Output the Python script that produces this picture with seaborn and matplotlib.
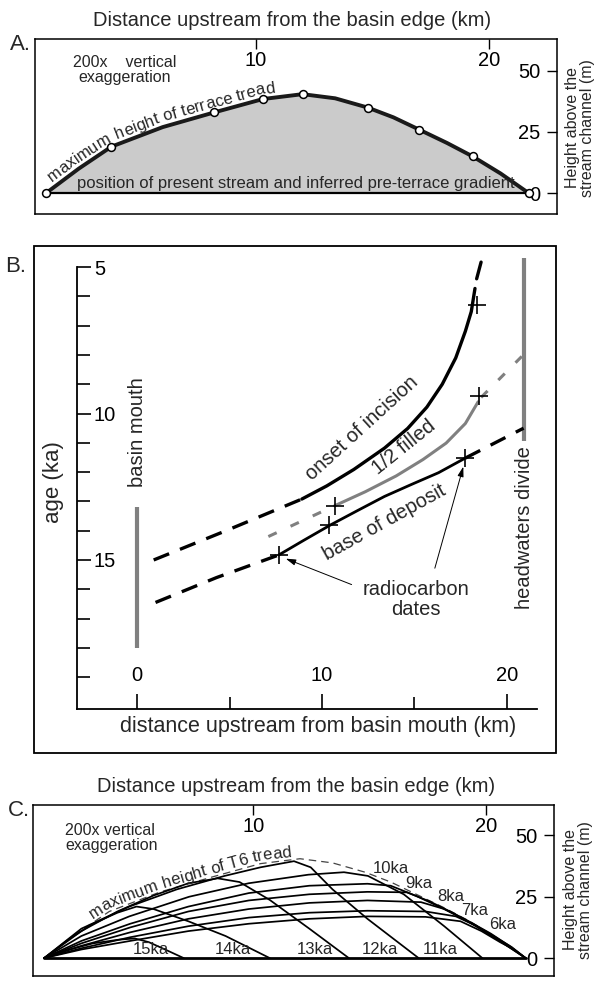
import numpy as np
import pandas as pd
import matplotlib
matplotlib.use("Agg")
import matplotlib.pyplot as plt
from matplotlib.patches import Rectangle
from matplotlib.ticker import FixedLocator
from matplotlib.font_manager import FontProperties
import seaborn as sns

sns.set_theme(style="white")
plt.rcParams['font.family'] = ['Liberation Sans', 'DejaVu Sans']
plt.rcParams['axes.linewidth'] = 1.0

# ---------------- data ----------------
# Panel A: maximum height of terrace tread (survey points and traced curve)
a_km = [1.0, 3.8, 8.2, 10.3, 12.0, 14.8, 17.0, 19.3, 21.7]
a_height = [0, 19, 33, 38.5, 40.5, 35, 26, 15, 0]
a_curve_km = [1.0, 2.4, 3.8, 6.0, 8.2, 10.3, 12.0, 13.4, 14.8, 15.9, 17.0, 18.2, 19.3, 20.5, 21.7]
a_curve_h = [0, 10, 19, 27, 33, 38.5, 40.5, 38.8, 35, 31, 26, 20.5, 15, 8, 0]
top_ticks = [10, 20]
right_ticks = [0, 25, 50]

# Panel B: ages (ka) vs distance upstream from basin mouth (km)
onset_km = [8.91, 10.26, 11.72, 13.38, 14.63, 15.67, 16.5, 17.23, 17.75, 18.07, 18.27]
onset_age = [12.92, 12.47, 11.91, 11.18, 10.51, 9.78, 9.0, 8.1, 7.19, 6.52, 5.73]
onset_lo_km = [0.9, 4.85, 8.91]
onset_lo_age = [15.0, 13.99, 12.92]
onset_hi_km = [18.36, 18.6]
onset_hi_age = [5.4, 4.83]

half_km = [10.68, 12.34, 14.01, 15.46, 16.71, 17.75, 18.44]
half_age = [13.15, 12.67, 12.13, 11.57, 11.01, 10.34, 9.6]
half_lo_km = [7.1, 10.68]
half_lo_age = [14.2, 13.15]
half_hi_km = [18.6, 20.8]
half_hi_age = [9.45, 8.05]

base_km = [7.66, 9.01, 10.47, 11.93, 13.38, 14.84, 16.3, 17.75]
base_age = [14.83, 14.33, 13.8, 13.31, 12.83, 12.42, 12.02, 11.52]
base_lo_km = [1.0, 4.3, 7.66]
base_lo_age = [16.45, 15.6, 14.83]
base_hi_km = [17.75, 20.9]
base_hi_age = [11.52, 10.5]

dates_km = [18.4, 18.5, 10.7, 10.4, 7.66, 17.75]
dates_age = [6.3, 9.4, 13.15, 13.8, 14.83, 11.52]

mouth_km, mouth_age = [0, 0], [13.2, 18.0]
divide_km, divide_age = [20.9, 20.9], [4.7, 10.95]

b_age_major = [5, 10, 15]
b_age_minor = [6, 7, 8, 9, 11, 12, 13, 14, 16, 17, 18, 19]
b_km_major = [0, 10, 20]
b_km_minor = [5, 15]

# Panel C: profiles through time
env_km = a_curve_km
env_height = a_curve_h
p15_km = [1.0, 2.1, 3.1, 4.2, 4.9, 5.5, 6.2, 7.0]
p15_h = [0, 3.5, 6, 7.5, 8, 6.5, 3.5, 0]
p14_km = [1.0, 2.1, 3.1, 4.15, 4.97, 5.7, 7.2, 8.8, 10.7]
p14_h = [0, 8, 14, 18.5, 21, 20, 15, 9, 0]
p13_km = [1.0, 2.6, 4.15, 5.7, 7.2, 8.46, 9.4, 10.7, 12.4, 14.1]
p13_h = [0, 11, 19, 25.5, 30.5, 32.5, 31, 23.7, 12, 0]
p12_km = [1.0, 2.6, 4.66, 6.7, 8.76, 10.3, 11.74, 12.46, 13.4, 14.9, 17.1]
p12_h = [0, 12, 21, 28, 33.5, 37, 39.5, 37, 28, 16, 0]
p11_km = [1.0, 2.6, 4.66, 7.23, 9.79, 12.36, 13.89, 14.92, 16.46, 18.2, 19.84]
p11_h = [0, 9, 17, 25, 30.5, 34, 35, 33.5, 26, 13, 0]
p10_km = [1.0, 2.6, 4.7, 7.2, 9.8, 12.4, 14.9, 15.9, 17.0, 18.2, 19.3, 20.5, 21.7]
p10_h = [0, 7, 14, 21, 26.5, 29.5, 30.3, 29.5, 25.3, 20, 14.5, 7.5, 0]
p9_km = [1.0, 2.6, 4.7, 7.2, 9.8, 12.4, 14.9, 16.6, 17.6, 18.6, 19.6, 20.6, 21.7]
p9_h = [0, 6, 12.5, 19, 23.5, 26, 27, 26.8, 23, 18.3, 13, 7, 0]
p8_km = [1.0, 2.6, 4.7, 7.2, 9.8, 12.4, 14.9, 17.2, 18.2, 19.2, 20.2, 21.0, 21.7]
p8_h = [0, 5, 10.5, 16, 20, 22.5, 23.5, 22.8, 20, 15.3, 10, 5, 0]
p7_km = [1.0, 2.6, 4.7, 7.2, 9.8, 12.4, 14.9, 17.4, 18.7, 19.6, 20.4, 21.1, 21.7]
p7_h = [0, 4, 8.5, 13, 16.5, 18.5, 19.3, 19, 17, 13, 8.5, 4.5, 0]
p6_km = [1.0, 2.6, 4.7, 7.2, 9.8, 12.4, 14.9, 17.4, 18.9, 19.8, 20.6, 21.2, 21.7]
p6_h = [0, 3.5, 7, 11, 14, 16, 17, 16.8, 15, 11, 6.5, 3.5, 0]

low_labels = ['15ka', '14ka', '13ka', '12ka', '11ka']
low_label_km = [5.6, 9.1, 12.65, 15.45, 18.05]
high_labels = ['10ka', '9ka', '8ka', '7ka', '6ka']
high_label_km = [15.9, 17.1, 18.5, 19.5, 20.7]
high_label_h = [36.5, 30.5, 25, 19.5, 13.8]

# ---------------- layout helpers ----------------
W, H = 601, 981
fig = plt.figure(figsize=(W / 100, H / 100), dpi=100)
renderer = fig.canvas.get_renderer()


def rect(x0, y0, x1, y1):
    return [x0 / W, 1 - y1 / H, (x1 - x0) / W, (y1 - y0) / H]


def ftext(x, y, s, **kw):
    fig.text(x / W, 1 - y / H, s, **kw)


def angle(ax, p0, p1):
    (x0, y0), (x1, y1) = ax.transData.transform([p0, p1])
    return np.degrees(np.arctan2(y1 - y0, x1 - x0))


def line(ax, x, y, **kw):
    sns.lineplot(x=x, y=y, ax=ax, sort=False, estimator=None, legend=False, **kw)


def text_on_curve(ax, xs, ys, s, start_px, offset_px, fontsize, win=14):
    pts = ax.transData.transform(np.column_stack([xs, ys]))
    d = np.r_[0, np.cumsum(np.hypot(*np.diff(pts, axis=0).T))]
    prop = FontProperties(family=['Liberation Sans', 'DejaVu Sans'], size=fontsize)

    def at(sv):
        sv = np.clip(sv, 0, d[-1])
        return np.array([np.interp(sv, d, pts[:, 0]), np.interp(sv, d, pts[:, 1])])

    pos = start_px
    inv = ax.transData.inverted()
    for ch in s:
        w, _, _ = renderer.get_text_width_height_descent(ch if ch != ' ' else 'i', prop,
                                                         ismath=False)
        if ch == ' ':
            w *= 1.25
        mid = pos + w / 2
        p = at(mid)
        v = at(mid + win) - at(mid - win)
        th = np.arctan2(v[1], v[0])
        n = np.array([-np.sin(th), np.cos(th)])
        q = p + n * offset_px
        if ch != ' ':
            xd, yd = inv.transform(q)
            ax.text(xd, yd, ch, rotation=np.degrees(th), rotation_mode='anchor',
                    ha='center', va='baseline', fontproperties=prop, zorder=6)
        pos += w


def profile_frame(ax, ylim, tick_pad):
    ax.set_xlim(0.52, 22.92)
    ax.set_ylim(*ylim)
    ax.xaxis.tick_top()
    ax.set_xticks(top_ticks)
    ax.set_xticklabels([str(t) for t in top_ticks])
    ax.tick_params(axis='x', direction='in', length=7, width=1.0, pad=tick_pad,
                   labelsize=14.5, colors='black')
    ax.yaxis.tick_right()
    ax.set_yticks(right_ticks)
    ax.set_yticklabels([str(t) for t in right_ticks])
    ax.tick_params(axis='y', direction='in', length=7, width=1.0, pad=-12,
                   labelsize=14.5, colors='black')
    for lbl in ax.get_yticklabels():
        lbl.set_horizontalalignment('right')
    for s in ax.spines.values():
        s.set_color('black')
        s.set_linewidth(1.1)
    ax.set_xlabel('')
    ax.set_ylabel('')


# ---------------- Panel A ----------------
axA = fig.add_axes(rect(35, 39, 557, 214))
profile_frame(axA, (-8.6, 63.1), -22)
axA.fill_between(a_curve_km, a_curve_h, 0, color='#cbcbcb', lw=0, zorder=1)
axA.plot([a_km[0], a_km[-1]], [0, 0], color='black', lw=1.6, zorder=2)
line(axA, a_curve_km, a_curve_h, color='#1a1a1a', lw=2.8, zorder=3)
sns.scatterplot(x=a_km, y=a_height, ax=axA, s=32, color='white', edgecolor='black',
                linewidth=1.1, zorder=5, legend=False)
axA.set_xlabel(''); axA.set_ylabel('')
axA.text(4.35, 50.5, '200x    vertical\nexaggeration', ha='center', va='center',
         fontsize=11.5, linespacing=1.0)
text_on_curve(axA, a_curve_km, a_curve_h, 'maximum height of terrace tread', 11, 5, 12)
axA.text(11.7, 4.0, 'position of present stream and inferred pre-terrace gradient',
         ha='center', va='center', fontsize=12)

ftext(292, 20, 'Distance upstream from the basin edge (km)', ha='center', va='center',
      fontsize=14.5)
ftext(20, 45, 'A.', ha='center', va='center', fontsize=16)
ftext(580, 128, 'Height above the\nstream channel (m)', ha='center', va='center',
      rotation=90, fontsize=11.5, linespacing=1.0)

# ---------------- Panel B ----------------
axB = fig.add_axes(rect(34, 246, 556, 753))
axB.set_xlim(-5.57, 22.65)
axB.set_ylim(21.59, 4.28)
axB.add_patch(Rectangle((0, 0), 1, 1, transform=axB.transAxes, fill=False,
                        ec='black', lw=1.3, clip_on=False, zorder=0))
axB.spines['top'].set_visible(False)
axB.spines['right'].set_visible(False)
axB.spines['left'].set_position(('data', -3.24))
axB.spines['left'].set_bounds(5, 20.09)
axB.spines['bottom'].set_position(('data', 20.09))
axB.spines['bottom'].set_bounds(-3.24, 21.6)
for s in ['left', 'bottom']:
    axB.spines[s].set_color('black')
    axB.spines[s].set_linewidth(1.3)

gray = '#808080'
dash_k = (0, (5, 3.5))
dash_g = (0, (3, 5))
line(axB, onset_km, onset_age, color='black', lw=2.4, zorder=3)
line(axB, onset_lo_km, onset_lo_age, color='black', lw=2.4, linestyle=dash_k, zorder=3)
line(axB, onset_hi_km, onset_hi_age, color='black', lw=2.4, zorder=3)
line(axB, half_km, half_age, color=gray, lw=2.2, zorder=3)
line(axB, half_lo_km, half_lo_age, color=gray, lw=2.2, linestyle=dash_g, zorder=3)
line(axB, half_hi_km, half_hi_age, color=gray, lw=2.2, linestyle=dash_g, zorder=3)
line(axB, base_km, base_age, color='black', lw=2.0, zorder=3)
line(axB, base_lo_km, base_lo_age, color='black', lw=2.4, linestyle=dash_k, zorder=3)
line(axB, base_hi_km, base_hi_age, color='black', lw=2.4, linestyle=dash_k, zorder=3)
axB.plot(mouth_km, mouth_age, color=gray, lw=3.0, solid_capstyle='butt', zorder=2)
axB.plot(divide_km, divide_age, color=gray, lw=3.0, solid_capstyle='butt', zorder=2)
axB.plot(dates_km, dates_age, linestyle='none', marker='+', ms=13, mew=1.2,
         color='black', zorder=4)

axB.set_yticks(b_age_major)
axB.yaxis.set_minor_locator(FixedLocator(b_age_minor))
axB.set_yticklabels([str(v) for v in b_age_major])
axB.tick_params(axis='y', which='major', direction='in', length=10, width=1.2, pad=-12,
                labelsize=14.5, left=True, colors='black')
axB.tick_params(axis='y', which='minor', direction='in', length=9, width=1.2, left=True,
                colors='black')
for lbl in axB.get_yticklabels():
    lbl.set_horizontalalignment('left')
axB.set_xticks(b_km_major)
axB.xaxis.set_minor_locator(FixedLocator(b_km_minor))
axB.set_xticklabels([str(v) for v in b_km_major])
axB.tick_params(axis='x', which='major', direction='in', length=11, width=1.2, pad=-31,
                labelsize=14.5, bottom=True, colors='black')
axB.tick_params(axis='x', which='minor', direction='in', length=9, width=1.2, bottom=True,
                colors='black')
axB.set_xlabel(''); axB.set_ylabel('')

axB.text(9.8, 20.67, 'distance upstream from basin mouth (km)', ha='center', va='center',
         fontsize=15.5)
axB.text(-4.52, 12.35, 'age (ka)', ha='center', va='center', rotation=90, fontsize=16)
axB.text(0.05, 10.65, 'basin mouth', ha='center', va='center', rotation=90, fontsize=14.5)
axB.text(20.95, 13.9, 'headwaters divide', ha='center', va='center', rotation=90,
         fontsize=14.5)
axB.text(12.15, 10.5, 'onset of incision', ha='center', va='center',
         rotation=angle(axB, (8.8, 12.45), (15.5, 8.6)), rotation_mode='anchor',
         fontsize=14.5)
axB.text(14.45, 11.15, '1/2 filled', ha='center', va='center',
         rotation=angle(axB, (12.55, 12.1), (16.3, 10.2)), rotation_mode='anchor',
         fontsize=14.5)
axB.text(13.4, 13.72, 'base of deposit', ha='center', va='center',
         rotation=angle(axB, (9.84, 14.94), (16.9, 12.47)), rotation_mode='anchor',
         fontsize=14.5)
axB.text(15.1, 16.35, 'radiocarbon\ndates', ha='center', va='center', fontsize=14.5,
         linespacing=1.1)
arrow_kw = dict(arrowstyle='-|>,head_length=0.5,head_width=0.15', color='black', lw=0.7,
                shrinkA=0, shrinkB=2)
axB.annotate('', xy=(7.9, 14.92), xytext=(11.6, 15.84), arrowprops=arrow_kw)
axB.annotate('', xy=(17.68, 11.72), xytext=(16.1, 15.28), arrowprops=arrow_kw)
ftext(16, 266, 'B.', ha='center', va='center', fontsize=16)

# ---------------- Panel C ----------------
axC = fig.add_axes(rect(33, 805, 554, 976))
profile_frame(axC, (-7.3, 62.4), -22)
axC.plot([env_km[0], env_km[-1]], [0, 0], color='black', lw=2.0, zorder=2)
line(axC, env_km, env_height, color='#444444', lw=0.9, linestyle=(0, (6, 4)), zorder=2)
for kx, hy in [(p15_km, p15_h), (p14_km, p14_h), (p13_km, p13_h), (p12_km, p12_h),
               (p11_km, p11_h), (p10_km, p10_h), (p9_km, p9_h), (p8_km, p8_h),
               (p7_km, p7_h), (p6_km, p6_h)]:
    line(axC, kx, hy, color='black', lw=1.25, zorder=3)
axC.set_xlabel(''); axC.set_ylabel('')
for lab, kx in zip(low_labels, low_label_km):
    axC.text(kx, 0.6, lab, ha='center', va='bottom', fontsize=12)
for lab, kx, hy in zip(high_labels, high_label_km, high_label_h):
    axC.text(kx, hy, lab, ha='center', va='center', fontsize=12)
axC.text(1.9, 48.8, '200x vertical\nexaggeration', ha='left', va='center',
         fontsize=11.5, linespacing=1.0)
text_on_curve(axC, env_km, env_height, 'maximum height of T6 tread', 62, 3, 12)

ftext(296, 787, 'Distance upstream from the basin edge (km)', ha='center', va='center',
      fontsize=14.5)
ftext(19, 810, 'C.', ha='center', va='center', fontsize=16)
ftext(578, 890, 'Height above the\nstream channel (m)', ha='center', va='center',
      rotation=90, fontsize=11.5, linespacing=1.0)

fig.savefig('out.png', dpi=100, facecolor='white')
